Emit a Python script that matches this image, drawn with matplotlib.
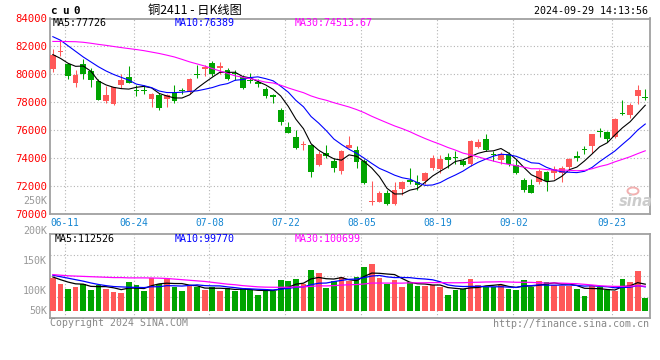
import numpy as np
import pandas as pd
import matplotlib
matplotlib.use("Agg")
import matplotlib.pyplot as plt
from matplotlib.patches import Ellipse
from matplotlib.transforms import blended_transform_factory

plt.rcParams['font.family'] = ['DejaVu Sans Mono', 'DejaVu Sans']

# trading days of cu0 shown in the chart (SHFE holidays removed)
dates = pd.bdate_range("2024-06-06", "2024-09-27", freq="C",
                       holidays=["2024-06-10", "2024-09-16", "2024-09-17"])
day_labels = list(dates.strftime("%m-%d"))
tick_labels = ['06-11', '06-24', '07-08', '07-22', '08-05', '08-19', '09-02', '09-23']

open_ = [80420, 81600, 80760, 79400, 80750, 80280, 79520, 78100, 77870, 79280,
         79800, 78900, 78900, 78220, 78500, 78220, 78780, 78900, 78720, 80050,
         80420, 80800, 80470, 80340, 80080, 79850, 79600, 79480, 78950, 78500,
         77490, 76240, 75500, 74980, 74950, 73560, 74400, 73800, 73100, 74760,
         74630, 73830, 70900, 70880, 71520, 70720, 71800, 72430, 72300, 72380,
         73330, 73250, 74120, 74100, 73810, 73570, 74800, 75350, 74330, 73850,
         74330, 73500, 72450, 72070, 72330, 73050, 72930, 72980, 73400, 74160,
         74690, 74880, 75990, 75900, 75520, 77250, 77100, 78450, 78380]
high = [81816, 82470, 80780, 80350, 81100, 80470, 79640, 79160, 79130, 80060,
        80630, 79210, 79210, 78700, 78700, 78620, 79250, 79030, 79760, 80650,
        80650, 80940, 80870, 80470, 80340, 79980, 80100, 79640, 79120, 78620,
        77600, 76620, 76060, 75250, 75020, 74550, 74950, 74050, 74580, 75600,
        74900, 73950, 72380, 71680, 71750, 72300, 72400, 73330, 72800, 73000,
        74210, 74250, 74400, 74520, 73930, 75280, 75350, 75710, 74520, 74450,
        74450, 73930, 72620, 72500, 73210, 73100, 73450, 73450, 74040, 74520,
        74880, 75750, 76180, 75940, 76850, 78200, 77950, 79280, 78930]
low = [80156, 81290, 79640, 79120, 79690, 79120, 78150, 77940, 77800, 79050,
       79380, 78450, 78570, 77670, 77440, 77670, 77990, 78600, 78580, 79760,
       79870, 79870, 80060, 79630, 79630, 78930, 79400, 79120, 78340, 77980,
       76380, 75780, 74640, 74580, 72700, 73450, 74050, 73050, 72850, 74720,
       73330, 72200, 70700, 70850, 70680, 70680, 71400, 72150, 71750, 72150,
       73140, 72980, 73330, 73570, 73450, 73450, 74710, 74520, 73810, 73570,
       73450, 72900, 71620, 71550, 72140, 71670, 72500, 72330, 73090, 73810,
       74280, 74350, 75520, 75180, 75470, 77100, 76900, 77900, 78200]
close = [81410, 81660, 79920, 79990, 80030, 79570, 78170, 78500, 79120, 79570,
         79400, 78820, 78820, 78575, 77600, 78500, 78100, 78800, 79700, 79980,
         80510, 80030, 80580, 79650, 80000, 79000, 79520, 79300, 78450, 78420,
         76620, 75790, 74720, 75040, 73050, 74300, 74150, 73300, 74550, 74950,
         73770, 72260, 70980, 71520, 70740, 71760, 72300, 72310, 72100, 72950,
         74040, 73980, 73900, 74020, 73500, 75230, 75160, 74590, 74210, 74330,
         73620, 72930, 71720, 71550, 73090, 72380, 73210, 73330, 73930, 74040,
         74570, 75710, 75900, 75350, 76820, 77150, 77850, 78880, 78290]
volume = [120500, 112000, 103700, 107000, 111800, 102000, 109800, 103700, 97200, 96400,
          114800, 109800, 100000, 121000, 111800, 120500, 107000, 99500, 107600, 106200,
          102000, 105600, 99500, 104300, 99200, 105000, 102000, 93000, 102800, 98700,
          117600, 116000, 119600, 111200, 134400, 130000, 105300, 117000, 123000, 116500,
          123000, 140000, 145300, 121000, 110600, 118200, 107000, 114500, 108200, 108300,
          109800, 107000, 93000, 101500, 103000, 119600, 110000, 106400, 106400, 109800,
          103400, 101500, 118200, 106200, 116500, 114300, 110300, 107800, 107800, 103100,
          91400, 108400, 106400, 100800, 99000, 119600, 114800, 133300, 88000]

# moving-average values for the first days (history not shown)
ma5_head = [81420, 81150, 80800, 80580]
ma10_head = [82700, 82450, 82050, 81650, 81250, 80900, 80550, 80250, 80000]
ma30_head = [82360, 82360, 82350, 82340, 82300, 82230, 82150, 82080, 82000, 81920,
             81850, 81780, 81700, 81600, 81500, 81380, 81250, 81080, 80900, 80750,
             80600, 80420, 80250, 80080, 79900, 79800, 79700, 79580, 79450]
vma5_head = [123000, 118500, 114500, 111500]
vma10_head = [126000, 123500, 121000, 118500, 116000, 113000, 110500, 108500, 107000]
vma30_head = [127000, 126000, 125000, 124500, 124000, 123500, 123000, 122500, 122000, 122000,
              121500, 121500, 121500, 121300, 121000, 120500, 119500, 118500, 117500, 116500,
              115500, 114000, 112500, 111000, 110000, 108500, 107500, 106500, 106000]

header_main = ["MA5:77726", "MA10:76389", "MA30:74513.67"]
header_vol = ["MA5:112526", "MA10:99770", "MA30:100699"]
vol_labels = ["250K", "200K", "150K", "100K"]
vol_label_vals = [250000, 200000, 150000, 100000]

RED = '#ff5858'
GREEN = '#00a400'
GRID = '#b4b4b4'
FRAME = '#a0a0a0'
MA_COLORS = ['black', '#0000ff', '#ff00ff']


def moving(values, n, head):
    s = pd.Series(values, dtype=float).rolling(n).mean().to_numpy()
    s[:n - 1] = head
    return s


W, H = 660, 360
fig = plt.figure(figsize=(W / 100, H / 100), dpi=100)


def px_axes(x0, y0, x1, y1):
    return fig.add_axes([x0 / W, 1 - y1 / H, (x1 - x0) / W, (y1 - y0) / H])


def ftext(x, y, s, **kw):
    fig.text(x / W, 1 - y / H, s, **kw)


ax = px_axes(50, 18.5, 650, 214.3)
axv = px_axes(50, 234.3, 650, 317.7)

n = len(close)
x = np.arange(n)
o = np.array(open_)
c = np.array(close)
up = c >= o
cols = np.where(up, RED, GREEN)
tick_idx = [day_labels.index(t) for t in tick_labels]

# ---- price panel
ax.vlines(x + 0.375, low, high, colors=cols, lw=0.75, zorder=3)
body_lo = np.minimum(o, c)
body_h = np.maximum(np.abs(c - o), 75)
ax.bar(x, body_h, bottom=body_lo, width=0.75, align='edge', color=cols, lw=0, zorder=4)
for n_ma, head, col in zip([5, 10, 30], [ma5_head, ma10_head, ma30_head], MA_COLORS):
    ax.plot(x + 0.375, moving(close, n_ma, head), color=col, lw=0.8, zorder=5)

ax.set_xlim(0, 79)
ax.set_ylim(70000, 84000)
ax.set_yticks(np.arange(70000, 84001, 2000))
ax.set_yticklabels([f"{v}" for v in range(70000, 84001, 2000)])
ax.set_xticks(tick_idx)
ax.set_xticklabels(tick_labels)
ax.tick_params(axis='y', length=0, pad=2.2, labelcolor='red', labelsize=7.7)
ax.tick_params(axis='x', length=0, pad=2.5, labelcolor='#1586d2', labelsize=6.9)
ax.grid(True, color=GRID, lw=0.8, linestyle=(0, (1, 2)))

# ---- volume panel
VOL_LO, VOL_HI, VOL_FLOOR = 54800, 194500, 66500
vol = np.array(volume)
axv.bar(x, vol - VOL_FLOOR, bottom=VOL_FLOOR, width=0.75, align='edge', color=cols, lw=0, zorder=3)
for n_ma, head, col in zip([5, 10, 30], [vma5_head, vma10_head, vma30_head], MA_COLORS):
    axv.plot(x + 0.375, moving(volume, n_ma, head), color=col, lw=0.9, zorder=5)
axv.set_xlim(0, 79)
axv.set_ylim(VOL_LO, VOL_HI)
axv.set_xticks(tick_idx)
axv.set_yticks(np.linspace(VOL_LO, VOL_HI, 5)[1:-1])
axv.set_xticklabels([])
axv.set_yticklabels([])
axv.tick_params(length=0)
axv.grid(True, color=GRID, lw=0.8, linestyle=(0, (1, 2)))

trans = blended_transform_factory(axv.transAxes, axv.transData)
for lab, v in zip(vol_labels + ["50K"], vol_label_vals + [VOL_FLOOR]):
    axv.text(-0.005, v, lab, transform=trans, ha='right', va='center',
             fontsize=7.2, color='#999999', clip_on=False)

for a in (ax, axv):
    for sp in a.spines.values():
        sp.set_color(FRAME)
        sp.set_linewidth(1.3)
    a.set_axisbelow(True)

# ---- header texts
for k, ch in enumerate("cu0"):
    ftext(53.5 + 11.4 * k, 11.5, ch, fontsize=7.8, fontweight='bold', ha='center', va='center')
ftext(195, 10.5, "铜2411 - 日K线图", fontsize=8.8, ha='center', va='center',
      family=['Noto Sans CJK SC', 'DejaVu Sans'])
ftext(648, 11.5, "2024-09-29 14:13:56", fontsize=7.2, ha='right', va='center')
for s, col, x0 in zip(header_main, MA_COLORS, [53, 175, 295]):
    ftext(x0, 23.5, s, fontsize=7.2, color=col, ha='left', va='center')
for s, col, x0 in zip(header_vol, MA_COLORS, [55, 175, 295]):
    ftext(x0, 238.5, s, fontsize=7.2, color=col, ha='left', va='center')

ftext(50, 323.5, "Copyright 2024 SINA.COM", fontsize=7.1, color='#888888', ha='left', va='center')
ftext(649, 324, "http://finance.sina.com.cn", fontsize=7.2, color='#888888', ha='right', va='center')

# sina watermark
fig.add_artist(Ellipse((633 / W, 1 - 191 / H), 11 / W, 7 / H, transform=fig.transFigure,
                       fc='none', ec='#f2b0b0', lw=1.4))
ftext(636, 201, "sina", fontsize=10.5, fontstyle='italic', fontweight='bold',
      color='#cccccc', ha='center', va='center', family='DejaVu Sans')

fig.savefig("out.png", dpi=100)
